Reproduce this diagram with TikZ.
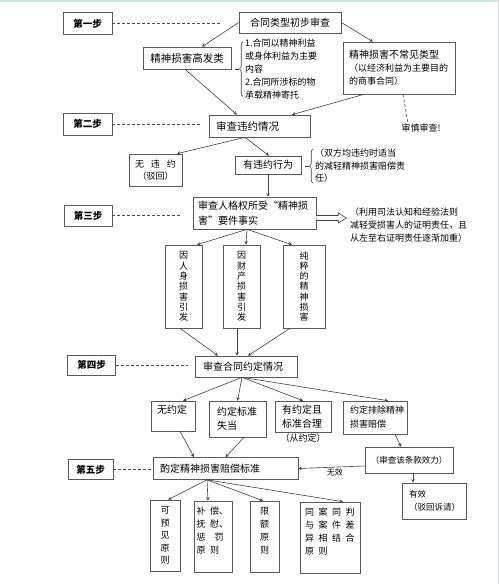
\documentclass[tikz,border=0pt]{standalone}
\usepackage{fontspec}
\setmainfont{Noto Sans CJK SC}
\usetikzlibrary{positioning,decorations.pathreplacing}
\newcommand{\chgap}{\hspace{4.5pt}}

\begin{document}
\begin{tikzpicture}[x=1pt,y=-1pt,>=stealth,
        box/.style={draw=black!65,line width=0.6pt,inner sep=0pt,align=center,font=\fontsize{9}{13}\selectfont},
        stepbox/.style={draw=black!65,line width=0.6pt,inner sep=0pt,font=\bfseries\fontsize{9.5}{11}\selectfont},
        txt/.style={inner sep=0pt,align=left,font=\fontsize{9}{13}\selectfont},
        arr/.style={->,draw=black!75,line width=0.6pt},
        dashline/.style={draw=black!70,line width=0.6pt,dash pattern=on 3pt off 2pt},
        brc/.style={decorate,decoration={brace,amplitude=3.5pt},draw=black!75,line width=0.6pt}]
                \useasboundingbox (0,0) rectangle (500,584);
                \draw[draw={rgb,255:red,212;green,228;blue,222},line width=1.5pt] (0,1) -- (498.5,1) -- (498.5,584);

                \node[stepbox,minimum width=49pt,minimum height=22pt] (s1) at (87.5,23.5) {第一步};
                \node[stepbox,minimum width=49pt,minimum height=22pt] (s2) at (87.5,124) {第二步};
                \node[stepbox,minimum width=48pt,minimum height=21pt] (s3) at (88,215.5) {第三步};
                \node[stepbox,minimum width=48pt,minimum height=20pt] (s4) at (91.5,365) {第四步};
                \node[stepbox,minimum width=45pt,minimum height=20pt] (s5) at (90.5,469.5) {第五步};

                \coordinate (d1) at (222,23.5);
                \coordinate (d2) at (200,124);
                \coordinate (d3) at (182,215.5);
                \coordinate (d4) at (188,365);
                \coordinate (d5) at (152,469.5);

                \node[box,minimum width=102pt,minimum height=21pt,font=\fontsize{10}{13}\selectfont] (b1) at (290,22.5) {合同类型初步审查};
                \node[box,minimum width=88pt,minimum height=22pt,font=\fontsize{10.5}{13}\selectfont] (hi) at (187,58) {精神损害高发类};
                \node[box,minimum width=112pt,minimum height=52pt,text width=100pt,align=left] (lo) at (399,68) {{\fontsize{10}{13}\selectfont 精神损害不常见类型}\\（以经济利益为主要目的\\的商事合同）};
                \node[txt] (sr) at (421,128) {审慎审查!};
                \node[txt,anchor=west] (br1) at (245,69) {1.合同以精神利益\\或身体利益为主要\\内容\\2.合同所涉标的物\\承载精神寄托};

                \node[box,minimum width=101pt,minimum height=22pt,text width=87pt,align=left,font=\fontsize{10.5}{13}\selectfont] (b2) at (259.5,126) {审查违约情况};
                \node[box,minimum width=53pt,minimum height=32pt,font=\fontsize{9}{12}\selectfont] (nb) at (155.5,170) {无\hspace{7pt}违\hspace{7pt}约\\（驳回）};
                \node[box,minimum width=66pt,minimum height=18pt,font=\fontsize{10}{13}\selectfont] (yb) at (268,165) {有违约行为};
                \node[txt,anchor=west,font=\fontsize{9}{12.5}\selectfont] (br2) at (315,166) {（双方均违约时适当\\的减轻精神损害赔偿责\\任）};

                \node[box,minimum width=123pt,minimum height=32pt,text width=113pt,align=left,font=\fontsize{10}{15}\selectfont] (b3) at (254.5,213) {审查人格权所受“精神损\\害”要件事实};
                \node[txt,anchor=west] (ev) at (350,225) {（利用司法认知和经验法则\\减轻受损害人的证明责任，且\\从左至右证明责任逐渐加重）};

                \node[box,minimum width=37pt,minimum height=83pt,font=\fontsize{9}{10.3}\selectfont] (p1) at (183.5,286.5) {因\\人\\身\\损\\害\\引\\发};
                \node[box,minimum width=37pt,minimum height=83pt,font=\fontsize{9}{10.3}\selectfont] (p2) at (241.5,286.5) {因\\财\\产\\损\\害\\引\\发};
                \node[box,minimum width=42pt,minimum height=83pt,font=\fontsize{9}{10.3}\selectfont] (p3) at (304,286.5) {纯\\粹\\的\\精\\神\\损\\害};

                \node[box,minimum width=102pt,minimum height=21pt,text width=86pt,align=left,font=\fontsize{10}{13}\selectfont] (b4) at (246,366.5) {审查合同约定情况};

                \node[box,minimum width=44pt,minimum height=30pt,text width=32pt,align=left,font=\fontsize{10}{14}\selectfont] (q1) at (173,416) {无约定\\\mbox{}};
                \node[box,minimum width=57pt,minimum height=36pt,text width=41pt,align=left,font=\fontsize{10}{14}\selectfont] (q2) at (237.5,419) {约定标准\\失当};
                \node[box,minimum width=56pt,minimum height=31pt,text width=42pt,align=left,font=\fontsize{10}{14}\selectfont] (q3) at (303,416.5) {有约定且\\标准合理};
                \node[txt,below=1pt of q3] (cy) {（从约定）};
                \node[box,minimum width=64pt,minimum height=33pt,text width=50pt,align=left,font=\fontsize{9}{14}\selectfont] (q4) at (375,417.5) {约定排除精神\\损害赔偿};

                \node[box,minimum width=88pt,minimum height=26pt,font=\fontsize{8.5}{13}\selectfont] (rv) at (409,460) {（审查该条款效力）};
                \node[box,minimum width=145pt,minimum height=22pt,text width=131pt,align=left,font=\fontsize{10}{13}\selectfont] (b5) at (225.5,468.5) {酌定精神损害赔偿标准};
                \node[box,minimum width=64pt,minimum height=36pt,text width=50pt,align=left,font=\fontsize{8.5}{13}\selectfont] (ef) at (434,501) {有效\\（驳回诉请）};

                \node[box,minimum width=30pt,minimum height=71pt,font=\fontsize{9}{12.5}\selectfont] (r1) at (165,535.5) {可\\预\\见\\原\\则};
                \node[box,minimum width=38pt,minimum height=71pt,text width=33pt,align=left] (r2) at (213,536.5) {补\chgap 偿、\\抚\chgap 慰、\\惩\chgap\chgap 罚\\原\chgap 则\\\mbox{}};
                \node[box,minimum width=29pt,minimum height=71pt] (r3) at (264.5,536.5) {限\\额\\原\\则\\\mbox{}};
                \node[box,minimum width=60pt,minimum height=71pt,text width=50pt,align=left] (r4) at (330,537.5) {同\chgap 案\chgap 同\chgap 判\\与\chgap 案\chgap 件\chgap 差\\异\chgap 相\chgap 结\chgap 合\\原\chgap 则\\\mbox{}};

                \draw[dashline] (s1.east) -- (d1);
                \draw[dashline] (s2.east) -- (d2);
                \draw[dashline] (s3.east) -- (d3);
                \draw[dashline] (s4.east) -- (d4);
                \draw[dashline] (s5.east) -- (d5);

                \draw[arr] (b1.west) -- ([xshift=15pt]hi.north);
                \draw[arr] (b1.east) -- ([xshift=-26pt]lo.north);
                \draw[arr] ([xshift=-2pt]hi.south) -- ([xshift=-22.5pt]b2.north);
                \draw[arr] ([xshift=-35pt]lo.south) -- ([xshift=32.5pt]b2.north);
                \draw[dashline] ([xshift=4pt]lo.south) -- ([xshift=-13pt]sr.north);
                \draw[brc] ([xshift=-2pt,yshift=3pt]br1.south west) -- ([xshift=-2pt,yshift=-3pt]br1.north west);
                \draw[draw=black!75,line width=0.6pt] ([xshift=-10pt]br1.west) -- ++(4,0);

                \draw[arr] ([xshift=-14.5pt]b2.south) -- ([xshift=21.5pt]nb.north);
                \draw[arr] ([xshift=-14.5pt]b2.south) -- ([xshift=1pt]yb.north);
                \draw[brc] ([xshift=-2pt]br2.south west) -- ([xshift=-2pt]br2.north west);
                \draw[draw=black!75,line width=0.6pt] ([xshift=-10pt]br2.west) -- ++(4,0);
                \draw[arr] (yb.south) -- (yb.south |- b3.north);

                \draw[draw=black!75,line width=0.6pt,fill=white] ([yshift=-2.5pt]b3.east) -- ++(22,0) -- ++(0,-2.5) -- ++(8,5) -- ++(-8,5) -- ++(0,-2.5) -- ([yshift=-7.5pt]b3.east);

                \draw[arr] ([xshift=-7.5pt]b3.south) -- ([xshift=13.5pt]p1.north);
                \draw[arr] ([xshift=-7.5pt]b3.south) -- ([xshift=4.5pt]p2.north);
                \draw[arr] ([xshift=-7.5pt]b3.south) -- ([xshift=-12pt]p3.north);
                \draw[arr] ([xshift=-3.5pt]p1.south) -- ([xshift=-28pt]b4.north);
                \draw[arr] ([xshift=-4.5pt]p2.south) -- ([xshift=-9pt]b4.north);
                \draw[arr] ([xshift=-14pt]p3.south) -- ([xshift=2pt]b4.north);

                \draw[arr] ([xshift=-4pt]b4.south) -- ([xshift=10pt]q1.north);
                \draw[arr] ([xshift=-4pt]b4.south) -- (q2.north);
                \draw[arr] ([xshift=-4pt]b4.south) -- (q3.north);
                \draw[arr] ([xshift=-4pt]b4.south) -- ([xshift=13pt]q4.north);

                \draw[arr] ([xshift=7pt]q1.south) -- ([xshift=-31.5pt]b5.north);
                \draw[arr] ([xshift=6.5pt]q2.south) -- (b5.north);
                \draw[arr] ([xshift=20pt]q4.south) -- ([xshift=-8pt]rv.north);
                \draw[arr] ([yshift=-6pt]rv.west) -- node[pos=0.45,below=1pt,inner sep=0pt,font=\fontsize{8}{10}\selectfont] (nv) {无效} (b5.east);
                \draw[arr] ([xshift=4pt]rv.south) -- ([xshift=-21pt]ef.north);

                \draw[arr] ([xshift=-18.5pt]b5.south) -- ([xshift=3pt]r1.north);
                \draw[arr] ([xshift=-18.5pt]b5.south) -- ([xshift=-5pt]r2.north);
                \draw[arr] ([xshift=-18.5pt]b5.south) -- ([xshift=-1.5pt]r3.north);
                \draw[arr] ([xshift=-18.5pt]b5.south) -- ([xshift=13pt]r4.north);
\end{tikzpicture}
\end{document}
